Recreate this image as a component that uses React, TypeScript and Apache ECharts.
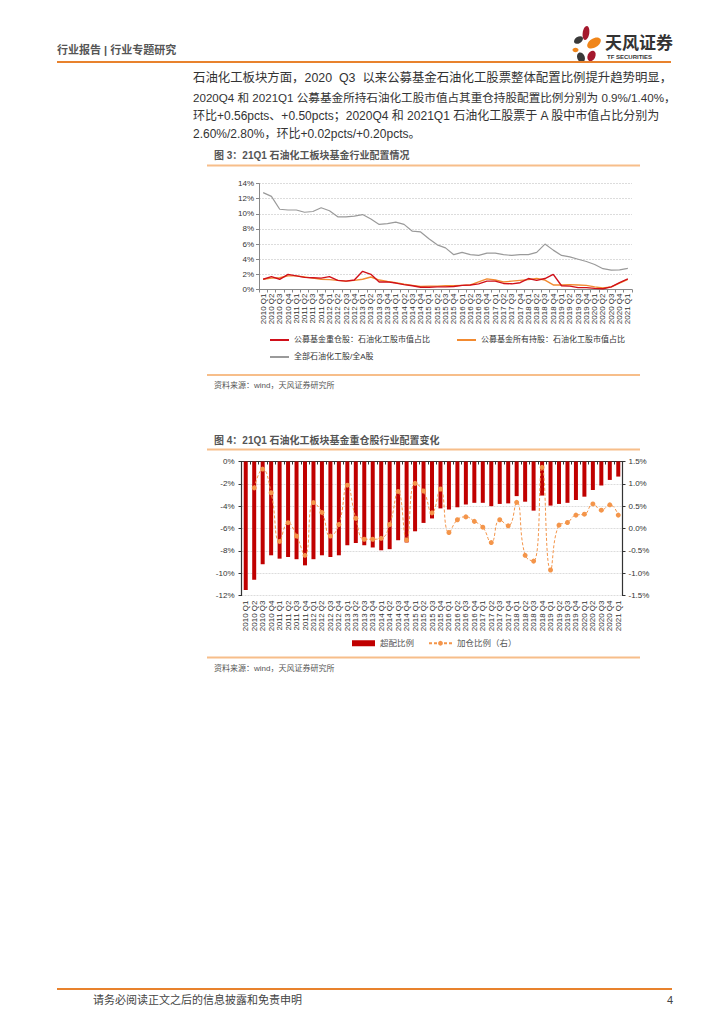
import React, { useEffect, useRef } from "react";
import * as echarts from "echarts";

const categories = [
  "2010 Q1","2010 Q2","2010 Q3","2010 Q4","2011 Q1","2011 Q2","2011 Q3","2011 Q4",
  "2012 Q1","2012 Q2","2012 Q3","2012 Q4","2013 Q1","2013 Q2","2013 Q3","2013 Q4",
  "2014 Q1","2014 Q2","2014 Q3","2014 Q4","2015 Q1","2015 Q2","2015 Q3","2015 Q4",
  "2016 Q1","2016 Q2","2016 Q3","2016 Q4","2017 Q1","2017 Q2","2017 Q3","2017 Q4",
  "2018 Q1","2018 Q2","2018 Q3","2018 Q4","2019 Q1","2019 Q2","2019 Q3","2019 Q4",
  "2020 Q1","2020 Q2","2020 Q3","2020 Q4","2021 Q1"
];

// 图3
const heavyHoldShare = [1.35,1.7,1.35,2.0,1.8,1.6,1.55,1.5,1.7,1.2,1.1,1.25,2.4,2.0,1.0,1.0,0.85,0.65,0.5,0.3,0.3,0.35,0.35,0.4,0.55,0.6,0.75,1.1,1.1,0.8,0.75,0.9,1.45,1.2,1.45,2.0,0.5,0.45,0.25,0.25,0.15,0.1,0.34,0.9,1.4];
const allHoldShare = [1.35,1.5,1.55,1.8,1.8,1.65,1.5,1.35,1.3,1.2,1.1,1.2,1.35,1.65,1.25,1.05,0.9,0.7,0.55,0.4,0.45,0.45,0.5,0.5,0.55,0.6,1.0,1.4,1.25,1.0,1.1,1.2,1.3,1.45,1.25,0.6,0.6,0.65,0.6,0.55,0.35,0.2,0.35,0.85,1.35];
const marketShare = [12.8,12.3,10.6,10.5,10.5,10.2,10.3,10.8,10.4,9.6,9.6,9.7,9.9,9.3,8.6,8.7,8.9,8.6,7.7,7.6,6.7,5.9,5.5,4.6,4.9,4.6,4.5,4.8,4.8,4.6,4.5,4.6,4.6,4.9,6.0,5.2,4.5,4.3,4.0,3.7,3.3,2.75,2.55,2.6,2.8];

// 图4
const overweight = [-11.5,-10.6,-9.2,-8.4,-8.7,-8.55,-8.75,-9.3,-8.75,-8.4,-8.55,-8.4,-7.5,-7.3,-7.5,-7.7,-7.95,-7.85,-7.05,-7.25,-6.25,-5.5,-5.1,-4.2,-4.3,-4.1,-3.85,-3.7,-3.7,-4.0,-3.8,-3.75,-3.1,-3.6,-4.4,-3.05,-3.95,-3.8,-3.7,-3.45,-3.15,-2.55,-2.15,-1.65,-1.35];
const addRatio = [null,0.91,1.33,0.8,-0.29,0.13,-0.17,-0.6,0.58,0.36,-0.17,0.09,0.97,0.23,-0.24,-0.24,-0.22,0.09,0.83,-0.26,1.01,0.84,0.35,0.885,-0.09,0.195,0.26,0.16,0.03,-0.315,0.195,0.06,0.585,-0.6,-0.73,1.37,-0.93,0.075,0.135,0.3,0.32,0.55,0.41,0.53,0.3];

const leftTicks1 = [0, 14, 2];
const leftTicks2 = [-12, 0, 2];
const rightTicks2 = [-1.5, 1.5, 0.5];

const FONT = "'Liberation Sans', 'Noto Sans CJK SC', sans-serif";
const ORANGE_LINE = "#E8822D";
const LIGHT_ORANGE = "#F7BE8A";

function txt(x: number, y: number, text: string, size: number, color: string, weight: string = "normal", align: string = "left") {
  return {
    type: "text",
    x,
    y,
    silent: true,
    style: {
      text,
      fill: color,
      fontSize: size,
      fontFamily: FONT,
      fontWeight: weight,
      textAlign: align,
      align,
      textVerticalAlign: "middle",
      verticalAlign: "middle",
    },
  };
}

function hline(x1: number, x2: number, y: number, color: string, w: number) {
  return {
    type: "line",
    silent: true,
    shape: { x1, y1: y, x2, y2: y },
    style: { stroke: color, lineWidth: w },
  };
}

function petal(cx: number, cy: number, rx: number, ry: number, rot: number, color: string) {
  return {
    type: "ellipse",
    x: cx,
    y: cy,
    rotation: rot,
    silent: true,
    shape: { cx: 0, cy: 0, rx, ry },
    style: { fill: color },
  };
}

export default function App() {
  const ref = useRef<HTMLDivElement>(null);

  useEffect(() => {
    if (!ref.current) return;
    const chart = echarts.init(ref.current, null, { renderer: "svg" });

    const catAxisLabel = {
      rotate: 90,
      fontSize: 8,
      color: "#333",
      fontFamily: FONT,
      interval: 0,
      margin: 4,
    };

    const lineLegend = (name: string, left: number, top: number) => ({
      data: [{ name, icon: "rect" }],
      left,
      top,
      itemWidth: 19,
      itemHeight: 2,
      itemGap: 4,
      textStyle: { fontSize: 8, color: "#333", fontFamily: FONT },
      padding: 0,
    });

    const option: any = {
      animation: false,
      backgroundColor: "#fff",
      textStyle: { fontFamily: FONT },
      grid: [
        { left: 259, top: 183.5, width: 373, height: 106, containLabel: false, outerBoundsMode: "none" },
        { left: 241.5, top: 461.5, width: 381, height: 134, containLabel: false, outerBoundsMode: "none" },
      ],
      xAxis: [
        {
          type: "category",
          gridIndex: 0,
          data: categories,
          boundaryGap: true,
          axisLine: { lineStyle: { color: "#888", width: 1 } },
          axisTick: { show: true, length: 3, lineStyle: { color: "#888" }, interval: 0 },
          axisLabel: catAxisLabel,
        },
        {
          type: "category",
          gridIndex: 1,
          position: "bottom",
          data: categories,
          boundaryGap: true,
          axisLine: { show: false, onZero: false },
          axisTick: { show: false },
          axisLabel: { ...catAxisLabel, margin: 5 },
        },
        {
          type: "category",
          gridIndex: 1,
          position: "top",
          data: categories,
          boundaryGap: true,
          axisLine: { show: true, onZero: false, lineStyle: { color: "#333", width: 1.2 } },
          axisTick: { show: true, inside: true, length: 3, interval: 0, lineStyle: { color: "#333" } },
          axisLabel: { show: false },
        },
      ],
      yAxis: [
        {
          type: "value",
          gridIndex: 0,
          min: leftTicks1[0],
          max: leftTicks1[1],
          interval: leftTicks1[2],
          axisLine: { show: true, lineStyle: { color: "#888" } },
          axisTick: { show: true, length: 3, lineStyle: { color: "#888" } },
          axisLabel: { fontSize: 8, color: "#333", fontFamily: FONT, margin: 5, formatter: (v: number) => v + "%" },
          splitLine: { show: true, lineStyle: { color: "#DCDCDC", type: [2, 1] } },
        },
        {
          type: "value",
          gridIndex: 1,
          min: leftTicks2[0],
          max: leftTicks2[1],
          interval: leftTicks2[2],
          axisLine: { show: true, lineStyle: { color: "#333", width: 1.2 } },
          axisTick: { show: true, length: 3, lineStyle: { color: "#333" } },
          axisLabel: { fontSize: 8, color: "#333", fontFamily: FONT, margin: 7, formatter: (v: number) => v + "%" },
          splitLine: { show: true, lineStyle: { color: "#DCDCDC", type: [2, 1] } },
        },
        {
          type: "value",
          gridIndex: 1,
          position: "right",
          min: rightTicks2[0],
          max: rightTicks2[1],
          interval: rightTicks2[2],
          axisLine: { show: true, lineStyle: { color: "#333", width: 1.2 } },
          axisTick: { show: true, length: 3, lineStyle: { color: "#333" } },
          axisLabel: { fontSize: 8, color: "#333", fontFamily: FONT, margin: 6, formatter: (v: number) => v.toFixed(1) + "%" },
          splitLine: { show: false },
        },
      ],
      legend: [
        lineLegend("公募基金重仓股：石油化工股市值占比", 270, 336),
        lineLegend("公募基金所有持股：石油化工股市值占比", 457, 336),
        lineLegend("全部石油化工股/全A股", 270, 353),
        {
          data: [
            { name: "超配比例", icon: "rect" },
            { name: "加仓比例（右）" },
          ],
          left: 352,
          top: 639,
          itemWidth: 23,
          itemHeight: 6,
          itemGap: 14,
          textStyle: { fontSize: 8.5, color: "#555", fontFamily: FONT },
          padding: 0,
        },
      ],
      series: [
        {
          name: "公募基金重仓股：石油化工股市值占比",
          type: "line",
          xAxisIndex: 0,
          yAxisIndex: 0,
          data: heavyHoldShare,
          symbol: "none",
          lineStyle: { color: "#D0101A", width: 1.4 },
          itemStyle: { color: "#D0101A" },
          z: 4,
        },
        {
          name: "公募基金所有持股：石油化工股市值占比",
          type: "line",
          xAxisIndex: 0,
          yAxisIndex: 0,
          data: allHoldShare,
          symbol: "none",
          lineStyle: { color: "#F28A30", width: 1.4 },
          itemStyle: { color: "#F28A30" },
          z: 3,
        },
        {
          name: "全部石油化工股/全A股",
          type: "line",
          xAxisIndex: 0,
          yAxisIndex: 0,
          data: marketShare,
          symbol: "none",
          lineStyle: { color: "#9A9A9A", width: 1.2 },
          itemStyle: { color: "#9A9A9A" },
          z: 2,
        },
        {
          name: "超配比例",
          type: "bar",
          xAxisIndex: 1,
          yAxisIndex: 1,
          data: overweight,
          barWidth: 4,
          itemStyle: { color: "#C00000" },
          z: 2,
        },
        {
          name: "加仓比例（右）",
          type: "line",
          xAxisIndex: 1,
          yAxisIndex: 2,
          data: addRatio,
          smooth: 0.5,
          symbol: "circle",
          symbolSize: 5,
          connectNulls: false,
          lineStyle: { color: "#F4954A", width: 1, type: [3, 2] },
          itemStyle: { color: "#F4954A" },
          z: 5,
        },
      ],
      graphic: [
        // header
        txt(57, 50, "行业报告 | 行业专题研究", 11, "#555", "bold"),
        petal(586, 33, 3.3, 7, -0.15, "#A4182D"),
        petal(594, 43, 7.5, 4.5, 0.55, "#F08519"),
        petal(578.5, 40, 5, 3.2, 0.6, "#3A3A3A"),
        petal(575.5, 50, 3, 2.2, 0, "#F08519"),
        petal(581, 57.5, 3.8, 5.2, 0.35, "#3A3A3A"),
        petal(591.5, 56, 3.8, 5.5, -0.45, "#A4182D"),
        txt(605, 43, "天风证券", 17, "#333", "bold"),
        txt(607, 57, "TF SECURITIES", 6, "#333", "bold"),
        hline(57, 671, 62, ORANGE_LINE, 2),
        // paragraph
        txt(193, 78, "石油化工板块方面，2020  Q3  以来公募基金石油化工股票整体配置比例提升趋势明显，", 12.4, "#333"),
        txt(193, 97, "2020Q4 和 2021Q1 公募基金所持石油化工股市值占其重仓持股配置比例分别为 0.9%/1.40%，", 11.6, "#333"),
        txt(193, 115.5, "环比+0.56pcts、+0.50pcts；2020Q4 和 2021Q1 石油化工股票于 A 股中市值占比分别为", 12, "#333"),
        txt(193, 133.5, "2.60%/2.80%，环比+0.02pcts/+0.20pcts。", 12, "#333"),
        // figure 3
        txt(214, 155.5, "图 3：21Q1 石油化工板块基金行业配置情况", 10, "#555", "bold"),
        hline(207, 640, 165.5, LIGHT_ORANGE, 2),
        hline(207, 640, 375, LIGHT_ORANGE, 2),
        txt(214, 385.5, "资料来源：wind，天风证券研究所", 8, "#555"),
        // figure 4
        txt(214, 440.5, "图 4：21Q1 石油化工板块基金重仓股行业配置变化", 10, "#555", "bold"),
        hline(207, 640, 449.5, LIGHT_ORANGE, 2),
        hline(207, 640, 657.5, LIGHT_ORANGE, 2),
        txt(214, 668.5, "资料来源：wind，天风证券研究所", 8, "#555"),
        // footer
        hline(57, 672, 989, ORANGE_LINE, 2),
        txt(93, 999.5, "请务必阅读正文之后的信息披露和免责申明", 11, "#444"),
        txt(667, 999.5, "4", 11, "#444"),
      ],
    };

    chart.setOption(option);
    return () => {
      chart.dispose();
    };
  }, []);

  return (
    <div
      ref={ref}
      style={{ position: "absolute", left: 0, top: 0, width: 724, height: 1024, background: "#fff" }}
    />
  );
}
